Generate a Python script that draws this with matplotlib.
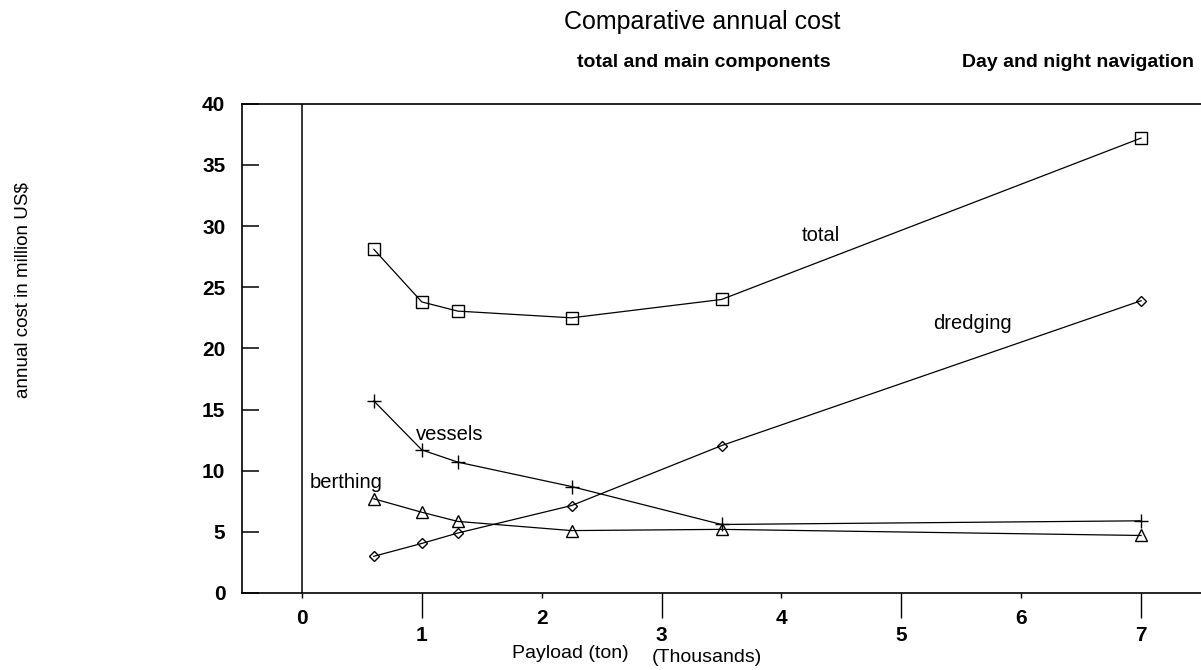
import matplotlib.pyplot as plt

plt.rcParams['font.family'] = ['Liberation Sans', 'DejaVu Sans']

# payload in thousands of tons
payload = [0.6, 1.0, 1.3, 2.25, 3.5, 7.0]

total = [28.1, 23.8, 23.05, 22.5, 24.0, 37.2]
dredging = [3.0, 4.05, 4.9, 7.15, 12.05, 23.9]
vessels = [15.7, 11.7, 10.7, 8.7, 5.6, 5.9]
berthing = [7.7, 6.6, 5.85, 5.1, 5.2, 4.7]

even_ticks = [0, 2, 4, 6]
odd_ticks = [1, 3, 5, 7]
y_ticks = [0, 5, 10, 15, 20, 25, 30, 35, 40]


def main():
    fig = plt.figure(figsize=(12.01, 6.70), dpi=100)
    ax = fig.add_axes([0.2015, 0.115, 0.7985, 0.73])

    line_kw = dict(color='black', linewidth=0.9, mfc='none', mec='black', mew=1.0)
    ax.plot(payload, total, marker='s', markersize=9, **line_kw)
    ax.plot(payload, dredging, marker='D', markersize=5, **line_kw)
    ax.plot(payload, vessels, marker='+', markersize=10, **line_kw)
    ax.plot(payload, berthing, marker='^', markersize=9, **line_kw)

    ax.axvline(0, color='black', linewidth=1.1)

    lab_kw = dict(fontsize=14.5, ha='center', va='center', color='black')
    ax.text(4.33, 29.2, 'total', **lab_kw)
    ax.text(5.59, 22.0, 'dredging', **lab_kw)
    ax.text(1.23, 12.95, 'vessels', **lab_kw)
    ax.text(0.37, 9.0, 'berthing', **lab_kw)

    ax.set_xlim(-0.5, 7.5)
    ax.set_ylim(0, 40)

    ax.set_yticks(y_ticks)
    ax.tick_params(axis='y', direction='in', length=12, width=1.1, pad=12,
                   labelsize=15)
    for lbl in ax.get_yticklabels():
        lbl.set_fontweight('bold')

    ax.set_xticks(even_ticks)
    ax.set_xticks(odd_ticks, minor=True)
    ax.set_xticklabels([str(t) for t in even_ticks], fontweight='bold')
    ax.set_xticklabels([str(t) for t in odd_ticks], minor=True, fontweight='bold')
    ax.tick_params(axis='x', which='major', direction='out', length=3.6,
                   width=1.0, pad=8, labelsize=15)
    ax.tick_params(axis='x', which='minor', direction='out', length=18,
                   width=1.0, pad=6, labelsize=15)

    for s in ax.spines.values():
        s.set_linewidth(1.2)
    ax.spines['right'].set_linewidth(0.6)
    ax.spines['right'].set_color('#cccccc')

    fig.text(0.4745, 0.025, 'Payload (ton)', fontsize=14,
             ha='center', va='center')
    fig.text(0.5885, 0.019, '(Thousands)', fontsize=14,
             ha='center', va='center')
    fig.text(0.019, 0.567, 'annual cost in million US$', fontsize=13.5,
             rotation=90, ha='center', va='center')

    fig.text(0.585, 0.967, 'Comparative annual cost', fontsize=18,
             ha='center', va='center')
    fig.text(0.586, 0.906, 'total and main components', fontsize=14,
             fontweight='bold', ha='center', va='center')
    fig.text(0.994, 0.906, 'Day and night navigation', fontsize=14,
             fontweight='bold', ha='right', va='center')

    fig.savefig('out.png', dpi=100)


if __name__ == "__main__":
    main()
